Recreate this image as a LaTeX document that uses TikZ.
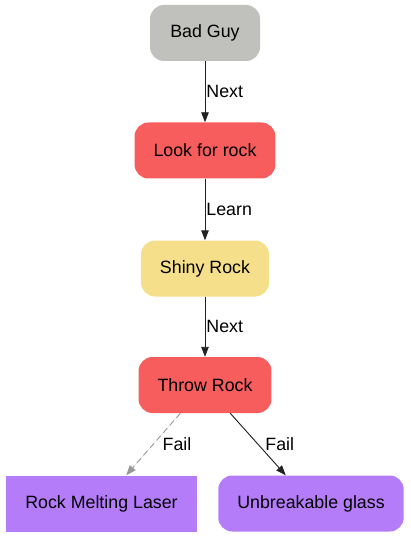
\documentclass[tikz,border=0pt]{standalone}
\usepackage{fontspec}
\setmainfont{Liberation Sans}
\usetikzlibrary{arrows.meta}

\definecolor{guygray}{HTML}{C0C1BD}
\definecolor{rockred}{HTML}{F75D5D}
\definecolor{shinyyellow}{HTML}{F6DF8B}
\definecolor{plumpurple}{HTML}{B57CFA}
\definecolor{edgeblack}{HTML}{222222}
\definecolor{failgray}{HTML}{999999}

\begin{document}
\begin{tikzpicture}[x=1pt,y=-1pt,
	font=\fontsize{17.8pt}{20pt}\selectfont,
	>={Triangle[length=10pt,width=7.5pt]},
	box/.style={rectangle,minimum height=56pt,minimum width=110pt,inner xsep=19pt},
	roundbox/.style={box,rounded corners=14pt},
	flow/.style={->,line width=0.9pt,draw=edgeblack,fill=edgeblack},
	faildash/.style={->,line width=0.9pt,dash pattern=on 6pt off 4pt,draw=failgray,fill=failgray},
	lbl/.style={midway,right,inner sep=1pt,text=black}]
	\useasboundingbox (0,0) rectangle (410,537);
	
	%chain
	\node[roundbox,fill=guygray] (guy) at (205,33) {Bad Guy};
	\node[roundbox,fill=rockred] (look) at (205,150.5) {Look for rock};
	\node[roundbox,fill=shinyyellow] (shiny) at (205,268.5) {Shiny Rock};
	\node[roundbox,fill=rockred] (throw) at (205,385) {Throw Rock};
	
	%outcomes
	\node[box,fill=plumpurple] (laser) at (101.5,503.5) {Rock Melting Laser};
	\node[roundbox,fill=plumpurple] (glass) at (311,503.5) {Unbreakable glass};
	
	%edges
	\draw[flow] (guy)--(look) node[lbl] {Next};
	\draw[flow] (look)--(shiny) node[lbl] {Learn};
	\draw[flow] (shiny)--(throw) node[lbl] {Next};
	\draw[faildash] (throw)--(laser) node[lbl,xshift=8pt] {Fail};
	\draw[flow] (throw)--(glass) node[lbl,xshift=6pt] {Fail};
\end{tikzpicture}
\end{document}
